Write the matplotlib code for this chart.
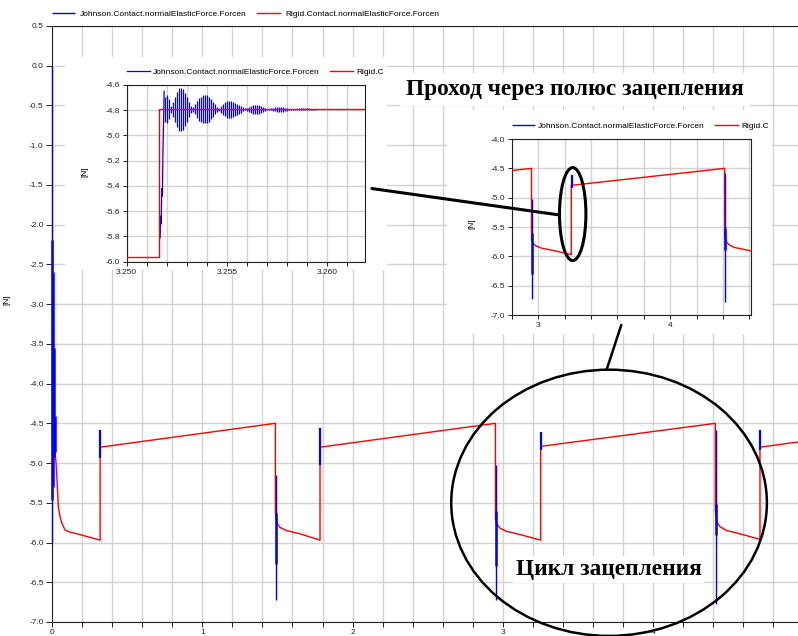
import numpy as np
import matplotlib
matplotlib.use("Agg")
import matplotlib.pyplot as plt
from matplotlib.patches import Ellipse, Rectangle, ConnectionPatch
from matplotlib.ticker import MultipleLocator, FixedLocator, FormatStrFormatter

plt.rcParams['font.family'] = ['Liberation Sans', 'DejaVu Sans']
plt.rcParams['axes.unicode_minus'] = False

# ---------------- data: full simulation (time [s], force [N]) ----------------
rigid_t = [0.002, 0.020, 0.027, 0.033, 0.042, 0.053, 0.064, 0.086, 0.120, 0.186, 0.320,
           0.320, 1.486,
           1.486, 1.495, 1.517, 1.561, 1.650, 1.783,
           1.783, 2.950,
           2.950, 2.959, 2.981, 3.025, 3.114, 3.251,
           3.251, 4.413,
           4.413, 4.422, 4.444, 4.488, 4.577, 4.710,
           4.710, 4.963]
rigid_f = [-3.10, -4.86, -5.00, -5.20, -5.55, -5.67, -5.75, -5.84, -5.87, -5.90, -5.97,
           -4.80, -4.50,
           -5.62, -5.75, -5.81, -5.85, -5.89, -5.97,
           -4.80, -4.50,
           -5.70, -5.77, -5.82, -5.86, -5.90, -5.97,
           -4.79, -4.50,
           -5.60, -5.74, -5.80, -5.85, -5.89, -5.96,
           -4.80, -4.735]

# Johnson contact: transients (vertical excursions) on top of the rigid curve
johnson_spike_t = [0.000, 0.003, 0.006, 0.012, 0.018, 0.322, 1.488, 1.490, 1.785,
                   2.952, 2.954, 3.253, 4.415, 4.417, 4.712]
johnson_spike_hi = [0.00, -2.19, -2.60, -3.55, -4.41, -4.58, -5.15, -5.63, -4.56,
                    -5.02, -5.60, -4.61, -4.58, -5.52, -4.58]
johnson_spike_lo = [-6.00, -5.46, -5.30, -4.92, -4.86, -4.93, -6.72, -6.27, -5.02,
                    -6.72, -6.30, -4.84, -6.77, -5.90, -4.83]

# ---------------- data: zoom on pole passage ----------------
rigid_zoom_t = [3.2500, 3.2516, 3.2516, 3.2625]
rigid_zoom_f = [-5.966, -5.966, -4.793, -4.793]
johnson_zoom_t = [3.25167, 3.25170, 3.25172, 3.25175, 3.25178, 3.25181, 3.25184, 3.25187]
johnson_zoom_f = [-5.81, -5.64, -5.70, -5.42, -5.48, -5.13, -4.90, -4.65]
johnson_ring_start = 3.2519
johnson_ring_end = 3.2594
johnson_ring_mean = -4.793
johnson_ring_amp = [
    0.10, 0.11, 0.08, 0.03, 0.06, 0.10, 0.14, 0.17, 0.17, 0.16,
    0.13, 0.10, 0.06, 0.03, 0.02, 0.04, 0.07, 0.09, 0.10, 0.11,
    0.11, 0.11, 0.10, 0.08, 0.06, 0.04, 0.02, 0.01, 0.03, 0.045,
    0.055, 0.065, 0.065, 0.065, 0.06, 0.05, 0.045, 0.035, 0.025, 0.015,
    0.008, 0.012, 0.02, 0.028, 0.033, 0.035, 0.035, 0.033, 0.028, 0.02,
    0.012, 0.006, 0.004, 0.008, 0.012, 0.015, 0.017, 0.018, 0.018, 0.017,
    0.014, 0.01, 0.006, 0.003, 0.002, 0.004, 0.006, 0.008, 0.009, 0.009,
    0.009, 0.008, 0.007, 0.005, 0.003, 0.002]

main_labels = ['Johnson.Contact.normalElasticForce.Forcen',
               'Rigid.Contact.normalElasticForce.Forcen']
inset_labels = ['Johnson.Contact.normalElasticForce.Forcen', 'Rigid.C']
main_xticks = [0, 1, 2, 3, 4]
zoom_xticks = [3.250, 3.255, 3.260]
ylabel = '[N]'
title_pole = 'Проход через полюс зацепления'
title_cycle = 'Цикл зацепления'

# ---------------- styling ----------------
W, H = 798, 636
BLUE, RED = '#0000ff', '#ff0000'
GRID = '#d2d2d2'
AXC = '#222222'
FS = 6
spike_lw = [1.0, 1.8, 1.8, 1.8, 1.8, 1.6, 1.0, 1.8, 1.6, 1.0, 1.8, 1.6, 1.0, 1.8, 1.6]


def fr(x0, y0, x1, y1):
    return [x0 / W, 1 - y1 / H, (x1 - x0) / W, (y1 - y0) / H]


def style_axes(a, right=True):
    for s in a.spines.values():
        s.set_color(AXC)
        s.set_linewidth(0.8)
    if not right:
        a.spines['right'].set_visible(False)
    a.tick_params(which='both', direction='out', length=3, width=0.7, colors=AXC,
                  labelsize=FS, pad=2)
    a.tick_params(which='minor', length=3)
    a.grid(True, which='major', color=GRID, lw=1.0)
    a.grid(True, which='minor', axis='x', color=GRID, lw=1.0)
    a.set_axisbelow(True)


fig = plt.figure(figsize=(W / 100, H / 100), dpi=100)

# ---------------- main axes ----------------
ax = fig.add_axes(fr(52, 26, 798, 622), zorder=1)
style_axes(ax, right=False)
l_rigid, = ax.plot(rigid_t, rigid_f, color=RED, lw=1.0, zorder=3)
l_john = ax.vlines(johnson_spike_t, johnson_spike_lo, johnson_spike_hi, colors=BLUE,
                   linewidths=spike_lw, zorder=4, clip_on=False)
ax.set_xlim(0, 4.963)
ax.set_ylim(-7.0, 0.5)
ax.xaxis.set_major_locator(FixedLocator(main_xticks))
ax.xaxis.set_major_formatter(FormatStrFormatter('%d'))
ax.xaxis.set_minor_locator(MultipleLocator(0.2))
ax.yaxis.set_major_locator(MultipleLocator(0.5))
ax.yaxis.set_major_formatter(FormatStrFormatter('%.1f'))
ax.tick_params(axis='x', which='both', length=3.5, pad=1.2)
ax.tick_params(axis='y', length=4)
ax.set_ylabel(ylabel, fontsize=FS)
ax.yaxis.set_label_coords(-0.056, 0.54)
ax.legend([l_john, l_rigid], main_labels, loc='center left',
          bbox_to_anchor=(52 / W, 1 - 14 / H), bbox_transform=fig.transFigure,
          ncol=2, frameon=False, fontsize=FS, handlelength=2.8, handletextpad=0.6,
          columnspacing=1.2, borderpad=0, borderaxespad=0)

# white backgrounds of the pasted insets
for (x0, y0, x1, y1) in [(65, 57, 387, 270), (447, 110, 772, 334)]:
    fig.add_artist(Rectangle((x0 / W, 1 - y1 / H), (x1 - x0) / W, (y1 - y0) / H,
                             transform=fig.transFigure, facecolor='white',
                             edgecolor='none', zorder=2))

# ---------------- inset 1: zoom on pole passage ----------------
ax1 = fig.add_axes(fr(126.7, 85, 365, 261.7), zorder=3)
style_axes(ax1)
ring_t = np.linspace(johnson_ring_start, johnson_ring_end, len(johnson_ring_amp))
ring_amp = np.asarray(johnson_ring_amp)
j1, = ax1.plot(johnson_zoom_t, johnson_zoom_f, color=BLUE, lw=0.9, zorder=3)
ax1.vlines(ring_t, johnson_ring_mean - ring_amp, johnson_ring_mean + ring_amp,
           colors=BLUE, linewidths=0.9, zorder=3)
r1, = ax1.plot(rigid_zoom_t, rigid_zoom_f, color=RED, lw=1.0, zorder=4)
ax1.set_xlim(3.250, 3.2619)
ax1.set_ylim(-6.0, -4.6)
ax1.xaxis.set_major_locator(FixedLocator(zoom_xticks))
ax1.xaxis.set_major_formatter(FormatStrFormatter('%.3f'))
ax1.xaxis.set_minor_locator(MultipleLocator(0.001))
ax1.yaxis.set_major_locator(MultipleLocator(0.2))
ax1.yaxis.set_major_formatter(FormatStrFormatter('%.1f'))
ax1.set_ylabel(ylabel, fontsize=FS)
ax1.yaxis.set_label_coords(-0.16, 0.51)
ax1.legend([j1, r1], inset_labels, loc='center left',
           bbox_to_anchor=(126.7 / W, 1 - 72 / H), bbox_transform=fig.transFigure,
           ncol=2, frameon=False, fontsize=FS, handlelength=2.8, handletextpad=0.4,
           columnspacing=1.2, borderpad=0, borderaxespad=0)

# ---------------- inset 2: one mesh cycle ----------------
ax2 = fig.add_axes(fr(511.7, 139, 750.7, 315), zorder=3)
style_axes(ax2)
r2, = ax2.plot(rigid_t, rigid_f, color=RED, lw=1.0, zorder=3)
j2 = ax2.vlines(johnson_spike_t, johnson_spike_lo, johnson_spike_hi, colors=BLUE,
                linewidths=spike_lw, zorder=4)
ax2.set_xlim(2.80, 4.61)
ax2.set_ylim(-7.0, -4.0)
ax2.xaxis.set_major_locator(FixedLocator([3, 4]))
ax2.xaxis.set_major_formatter(FormatStrFormatter('%d'))
ax2.xaxis.set_minor_locator(MultipleLocator(0.2))
ax2.yaxis.set_major_locator(MultipleLocator(0.5))
ax2.yaxis.set_major_formatter(FormatStrFormatter('%.1f'))
ax2.set_ylabel(ylabel, fontsize=FS)
ax2.yaxis.set_label_coords(-0.153, 0.52)
ax2.legend([j2, r2], inset_labels, loc='center left',
           bbox_to_anchor=(511.7 / W, 1 - 126 / H), bbox_transform=fig.transFigure,
           ncol=2, frameon=False, fontsize=FS, handlelength=2.8, handletextpad=0.4,
           columnspacing=1.2, borderpad=0, borderaxespad=0)

# ---------------- annotations ----------------
ax2.add_patch(Ellipse((3.262, -5.28), 0.20, 1.585, fill=False, ec='black', lw=2.2,
                      zorder=6, clip_on=False))
ax.add_patch(Ellipse((3.706, -5.50), 2.10, 3.35, fill=False, ec='black', lw=1.8,
                     zorder=6, clip_on=False))
c1 = ConnectionPatch(xyA=(1.029, 0.414), coordsA=ax1.transAxes,
                     xyB=(3.161, -5.295), coordsB=ax2.transData,
                     color='black', lw=2.2, zorder=6)
fig.add_artist(c1)
c2 = ConnectionPatch(xyA=(3.690, -3.824), coordsA=ax.transData,
                     xyB=(3.630, -7.17), coordsB=ax2.transData,
                     color='black', lw=1.8, zorder=6)
fig.add_artist(c2)

fig.text(575 / W, 1 - 95 / H, title_pole, family=['Liberation Serif', 'DejaVu Serif'],
         weight='bold', fontsize=16.8, ha='center', va='baseline', zorder=7,
         bbox=dict(facecolor='white', edgecolor='none', pad=4))
fig.text(608.5 / W, 1 - 575 / H, title_cycle, family=['Liberation Serif', 'DejaVu Serif'],
         weight='bold', fontsize=16.8, ha='center', va='baseline', zorder=7,
         bbox=dict(facecolor='white', edgecolor='none', pad=2))

fig.savefig('out.png', dpi=100)
